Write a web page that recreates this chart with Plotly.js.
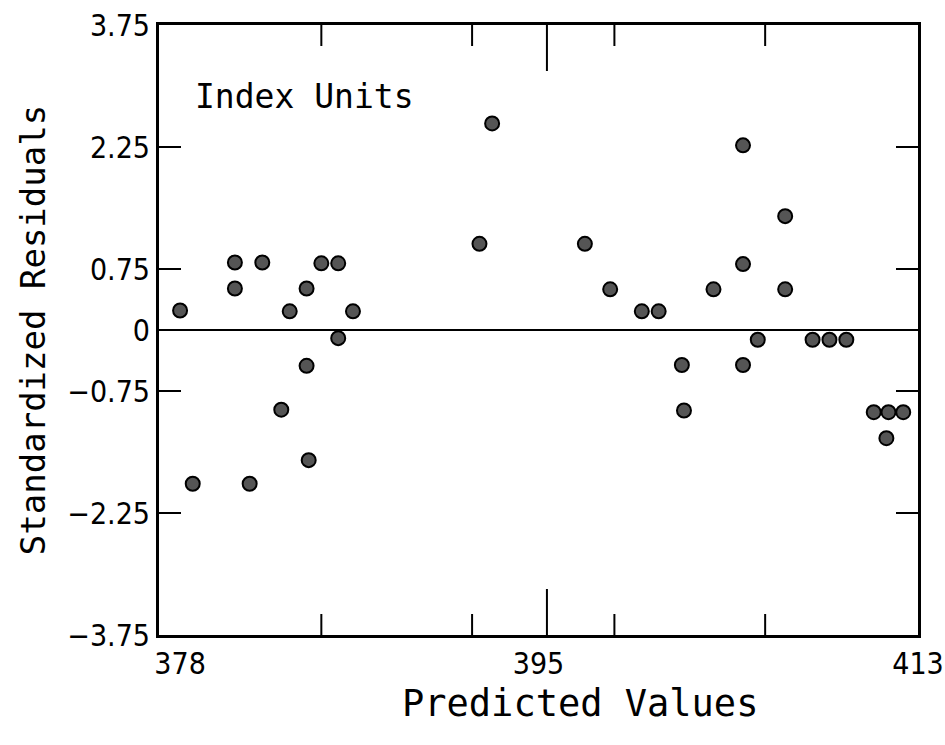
<!DOCTYPE html>
<html>
<head>
<meta charset="utf-8">
<script src="https://cdn.plot.ly/plotly-3.0.1.min.js"></script>
<style>
html,body{margin:0;padding:0;background:#fff;}
#chart{width:945px;height:745px;}
</style>
</head>
<body>
<div id="chart"></div>
<script>
// Data
var predicted = [378.0, 378.6, 380.6, 380.6, 381.3, 381.9, 382.8, 383.2, 384.0, 384.0,
                 384.1, 384.7, 385.5, 385.5, 386.2, 392.2, 392.8, 397.2, 398.4, 399.9,
                 400.7, 401.8, 401.9, 403.3, 404.7, 404.7, 404.7, 405.4, 406.7, 406.7,
                 408.0, 408.8, 409.6, 410.9, 411.6, 412.3, 411.5];
var residuals = [0.24, -1.89, 0.83, 0.51, -1.89, 0.83, -0.98, 0.23, 0.51, -0.44,
                 -1.60, 0.82, 0.82, -0.10, 0.23, 1.06, 2.54, 1.06, 0.50, 0.23,
                 0.23, -0.43, -0.99, 0.50, 2.27, 0.81, -0.43, -0.12, 1.40, 0.50,
                 -0.12, -0.12, -0.12, -1.01, -1.01, -1.01, -1.33];

var xTickVals = [378, 395, 413];
var xTickText = ['378', '395', '413'];
var yTickVals = [-3.75, -2.25, -0.75, 0, 0.75, 2.25, 3.75];
var yTickText = ['\u22123.75', '\u22122.25', '\u22120.75', '0', '0.75', '2.25', '3.75'];
var xShortMarks = [384.7, 391.85, 398.6, 405.75];
var xLongMarks = [395.4];

var shapes = [];
function addMarks(vals, len) {
  vals.forEach(function (v) {
    shapes.push({type: 'line', xref: 'x', yref: 'paper', x0: v, x1: v, y0: 0, y1: len,
                 line: {color: '#000', width: 2}});
    shapes.push({type: 'line', xref: 'x', yref: 'paper', x0: v, x1: v, y0: 1, y1: 1 - len,
                 line: {color: '#000', width: 2}});
  });
}
addMarks(xShortMarks, 21 / 610);
addMarks(xLongMarks, 46 / 610);

var trace = {
  x: predicted,
  y: residuals,
  mode: 'markers',
  type: 'scatter',
  marker: {size: 14, color: '#555555', line: {color: '#000000', width: 2}},
  hoverinfo: 'x+y'
};

var tickFont = {family: '"Liberation Sans Narrow", "DejaVu Sans Condensed", "Liberation Sans", sans-serif', size: 30, color: '#000'};
var titleFontFamily = '"DejaVu Sans Mono", monospace';

var layout = {
  width: 945,
  height: 745,
  margin: {l: 159, r: 27, t: 25, b: 110},
  paper_bgcolor: '#ffffff',
  plot_bgcolor: '#ffffff',
  showlegend: false,
  xaxis: {
    range: [377, 413],
    tickvals: xTickVals,
    ticktext: xTickText,
    ticks: '',
    tickfont: tickFont,
    ticklabeloverflow: 'allow',
    ticklabelstandoff: 0,
    showgrid: false,
    zeroline: false,
    showline: true,
    linecolor: '#000',
    linewidth: 3,
    mirror: true
  },
  yaxis: {
    range: [-3.75, 3.75],
    tickvals: yTickVals,
    ticktext: yTickText,
    ticks: 'inside',
    ticklen: 22,
    tickwidth: 2,
    tickcolor: '#000',
    tickfont: tickFont,
    showgrid: false,
    zeroline: true,
    zerolinecolor: '#000',
    zerolinewidth: 2,
    showline: true,
    linecolor: '#000',
    linewidth: 3,
    mirror: 'ticks',
    title: {text: 'Standardized Residuals', font: {family: titleFontFamily, size: 34, color: '#000'}, standoff: 12}
  },
  shapes: shapes,
  annotations: [{
    text: 'Index Units',
    xref: 'paper', yref: 'paper',
    x: 0.045, y: 0.882,
    xanchor: 'left', yanchor: 'middle',
    showarrow: false,
    font: {family: titleFontFamily, size: 33, color: '#000'}
  }, {
    text: 'Predicted Values',
    xref: 'paper', yref: 'paper',
    x: 0.555, y: -0.112,
    xanchor: 'center', yanchor: 'middle',
    showarrow: false,
    font: {family: titleFontFamily, size: 37, color: '#000'}
  }]
};

Plotly.newPlot('chart', [trace], layout, {displayModeBar: false, staticPlot: true});
</script>
</body>
</html>
